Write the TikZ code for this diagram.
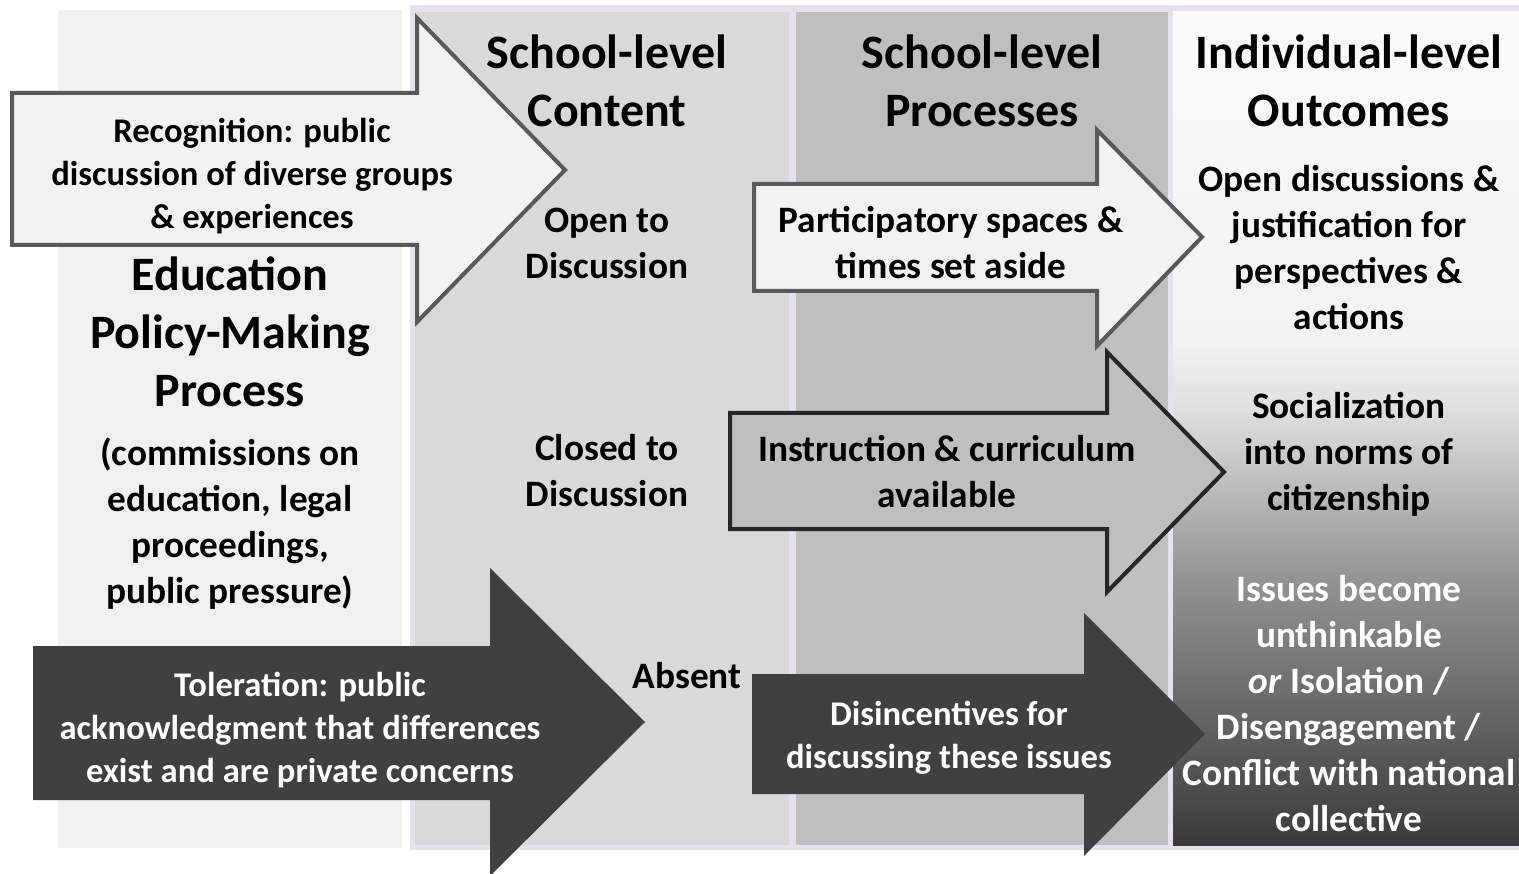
\documentclass[tikz,border=0pt]{standalone}
\usepackage{fontspec}
\setmainfont{Carlito}
\definecolor{lav}{HTML}{E6E1EC}
\definecolor{leftbg}{HTML}{F0F0F0}
\definecolor{colA}{HTML}{D9D9D9}
\definecolor{colB}{HTML}{BFBFBF}
\definecolor{arrlight}{HTML}{F2F2F2}
\definecolor{arrlightline}{HTML}{595959}
\definecolor{arrmidline}{HTML}{262626}
\definecolor{arrdark}{HTML}{404040}
\definecolor{sa}{HTML}{3A3A3A}
\definecolor{sb}{HTML}{959595}
\definecolor{sc}{HTML}{E0E0E0}
\definecolor{sd}{HTML}{F2F2F2}
\definecolor{se}{HTML}{FAFAFA}
\pgfdeclareverticalshading{outshade}{100bp}{color(0bp)=(sa); color(25bp)=(sa); color(41.3bp)=(sb); color(51.3bp)=(sc); color(55.3bp)=(sd); color(75bp)=(se); color(100bp)=(se)}
\tikzset{
  lbl/.style={align=center, inner sep=0pt, font=\bfseries\fontsize{37.3}{46}\selectfont},
  headtxt/.style={align=center, inner sep=0pt, font=\bfseries\fontsize{48}{58}\selectfont},
  arrtxt/.style={align=center, inner sep=0pt, font=\bfseries\fontsize{34.6}{43}\selectfont},
  lightarrow/.style={fill=arrlight, draw=arrlightline, line width=4pt, line join=miter},
  midarrow/.style={fill=colB, draw=arrmidline, line width=4pt, line join=miter},
  darkarrow/.style={fill=arrdark},
}
\begin{document}
\begin{tikzpicture}[x=1pt,y=-1pt]
\useasboundingbox (0,0) rectangle (1519,874);
\fill[white] (0,0) rectangle (1519,874);
% panels
\fill[leftbg] (58,10) rectangle (402,848);
\fill[lav] (410,5) rectangle (1519,850);
\fill[colA] (415,12) rectangle (789,845);
\fill[colB] (796,12) rectangle (1168,845);
\path[shading=outshade] (1173,12) rectangle (1519,845);
% arrows
\draw[lightarrow] (12,93) -- (417,93) -- (417,18) -- (565,170) -- (417,322) -- (417,245) -- (12,245) -- cycle;
\draw[lightarrow] (754,184) -- (1097,184) -- (1097,130) -- (1202,237) -- (1097,346) -- (1097,291) -- (754,291) -- cycle;
\draw[midarrow] (730,413) -- (1107,413) -- (1107,352) -- (1224,472) -- (1107,592) -- (1107,529) -- (730,529) -- cycle;
\fill[darkarrow] (33,646) -- (490,646) -- (490,568) -- (645,722) -- (490,876) -- (490,800) -- (33,800) -- cycle;
\fill[darkarrow] (752,674) -- (1084,674) -- (1084,613) -- (1205,734) -- (1084,856) -- (1084,794) -- (752,794) -- cycle;
% headings
\node[headtxt] (h1) at (607,81) {School-level\\Content};
\node[headtxt] (h2) at (982,81) {School-level\\Processes};
\node[headtxt] (h3) at (1349,81) {Individual-level\\Outcomes};
\node[headtxt] (edu) at (230,332) {Education\\Policy-Making\\Process};
\node[lbl] (comm) at (230,524) {(commissions on\\education, legal\\proceedings,\\public pressure)};
% content column
\node[lbl] (open) at (607,243) {Open to\\Discussion};
\node[lbl] (closed) at (607,471) {Closed to\\Discussion};
\node[lbl] (absent) at (687,676) {Absent};
% outcomes
\node[lbl] (out1) at (1349,248) {Open discussions \&\\justification for\\perspectives \&\\actions};
\node[lbl] (out2) at (1349,454) {Socialization\\into norms of\\citizenship};
\node[lbl, text=white] (out3) at (1349,704) {Issues become\\unthinkable\\\textit{or} Isolation /\\Disengagement /\\Conflict with national\\collective};
% arrow texts
\node[arrtxt] (recog) at (252,176) {Recognition: public\\discussion of diverse groups\\\& experiences};
\node[arrtxt, text=white] (tol) at (300,730) {Toleration: public\\acknowledgment that differences\\exist and are private concerns};
\node[lbl] (part) at (951,243) {Participatory spaces \&\\times set aside};
\node[lbl] (instr) at (947,472) {Instruction \& curriculum\\available};
\node[arrtxt, text=white] (dis) at (949,738) {Disincentives for\\discussing these issues};
\end{tikzpicture}
\end{document}
